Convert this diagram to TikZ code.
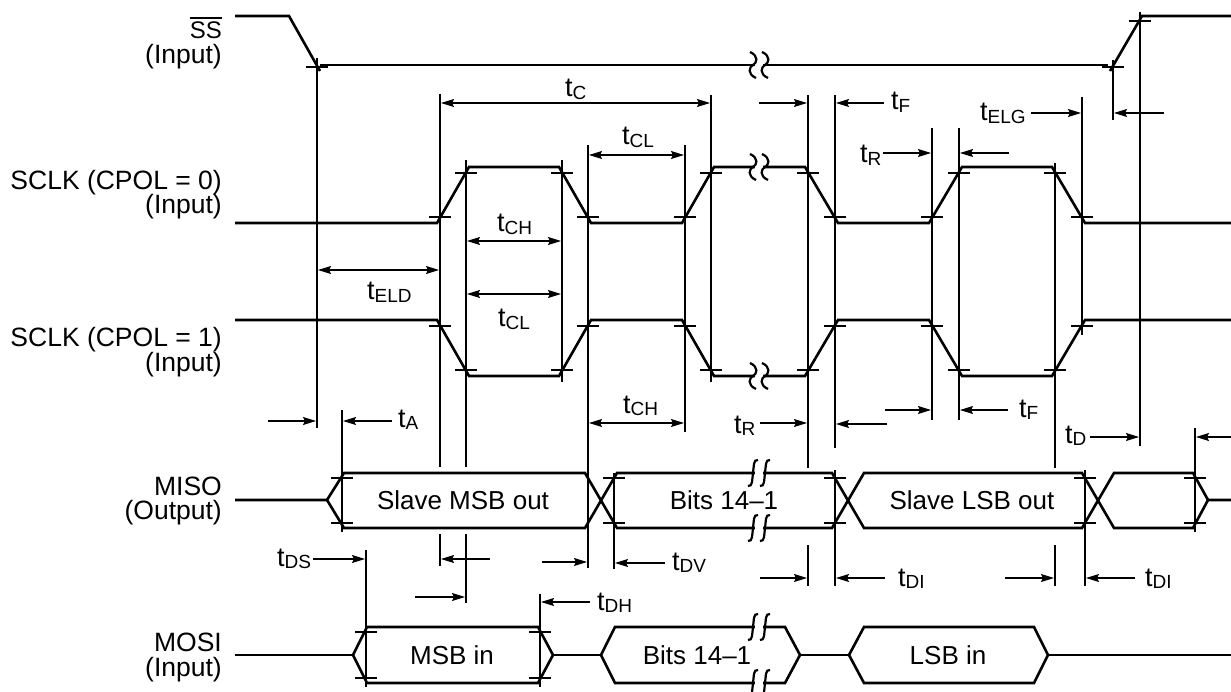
\documentclass[tikz,border=0pt]{standalone}
\usepackage{fontspec}
\setmainfont{Liberation Sans}
\usetikzlibrary{arrows.meta}
\newcommand\tsb[1]{t\raisebox{-2.5pt}{\fontsize{19}{19}\selectfont #1}}
\newcommand\tk[2]{\draw[tick] ({#1-11},#2) -- ({#1+11},#2);}
% wreath-like break (SS, SCLK)
\newcommand\brkw[2]{%
  \fill[white] ({#1-4},{#2-3.5}) rectangle ({#1+4},{#2+3.5});
  \foreach \o in {-6,6}{%
  \draw[brkline] ({#1+\o-3},{#2-13}) .. controls ({#1+\o+6},{#2-9}) and ({#1+\o+4},{#2-2}) .. ({#1+\o},{#2}) .. controls ({#1+\o-4},{#2+2}) and ({#1+\o-6},{#2+9}) .. ({#1+\o+3},{#2+13});}}
% integral-like break (MISO, MOSI)
\newcommand\brki[2]{%
  \fill[white] ({#1-4},{#2-3.5}) rectangle ({#1+4},{#2+3.5});
  \foreach \o in {-6,6}{%
  \draw[brkline] ({#1+\o+5},{#2-13}) .. controls ({#1+\o},{#2-14}) and ({#1+\o+1},{#2-6}) .. ({#1+\o},{#2}) .. controls ({#1+\o-1},{#2+6}) and ({#1+\o},{#2+14}) .. ({#1+\o-5},{#2+13});}}
\begin{document}
\begin{tikzpicture}[x=1pt,y=-1pt,
  sig/.style={line width=2.6pt,line join=miter},
  ref/.style={line width=1.1pt},
  tick/.style={line width=1.1pt},
  brkline/.style={line width=2.2pt},
  dim/.style={line width=1.1pt,-{Stealth[length=13pt,width=8pt,inset=2pt]}},
  dbl/.style={line width=1.1pt,{Stealth[length=13pt,width=8pt,inset=2pt]}-{Stealth[length=13pt,width=8pt,inset=2pt]}},
  tlab/.style={inner sep=0pt,anchor=base west,font=\fontsize{27}{27}\selectfont},
  slab/.style={inner sep=0pt,anchor=base east,font=\fontsize{26.5}{26.5}\selectfont},
  blab/.style={inner sep=0pt,font=\fontsize{26}{26}\selectfont}]
\useasboundingbox (0,0) rectangle (1231,692);
\fill[white] (0,0) rectangle (1231,692);

% ---- signal names
\node[slab,font=\fontsize{24}{24}\selectfont] (ss) at (222,39) {SS};
\draw[line width=1.3pt] ([shift={(0,-4)}]ss.north west) -- ([shift={(0,-4)}]ss.north east);
\node[slab] (ssin) at (222,64) {(Input)};
\node[slab] (c0) at (222,190) {SCLK (CPOL = 0)};
\node[slab] (c0in) at (222,214) {(Input)};
\node[slab] (c1) at (222,347) {SCLK (CPOL = 1)};
\node[slab] (c1in) at (222,371) {(Input)};
\node[slab] (miso) at (222,495) {MISO};
\node[slab] (misoout) at (222,519) {(Output)};
\node[slab] (mosi) at (222,651) {MOSI};
\node[slab] (mosiin) at (222,676) {(Input)};

% ---- reference lines
\foreach \x/\a/\b in {317/58/428, 342/410/532, 440/94/467, 440/534/566, 466/160/467, 466/534/603,
  562/160/382, 588/145/568, 614/473/569, 685/145/432, 711/95/382, 808/95/468, 808/545/586,
  835/95/448, 835/470/586, 932/128/420, 959/128/420, 1055/163/468, 1055/545/586,
  1082/97/335, 1085/470/586, 1113/60/120, 1140/12/446, 1195/428/532, 366/550/687, 540/594/687}
  \draw[ref] (\x,\a) -- (\x,\b);

% ---- SS
\draw[sig] (235,16) -- (289,16) -- (320,71);
\draw[sig] (320,65) -- (1108,65);
\draw[sig] (1110,71) -- (1142,16) -- (1231,16);
\tk{317}{67} \tk{1113}{67} \tk{1140}{21}

% ---- SCLK CPOL=0
\draw[sig] (235,223) -- (437,223) -- (469,167) -- (559,167) -- (591,223) -- (682,223) -- (714,167) -- (805,167) -- (838,223) -- (929,223) -- (962,167) -- (1052,167) -- (1085,223) -- (1231,223);
\foreach \x/\y in {440/217,466/173,562/173,588/217,685/217,711/173,808/173,835/217,932/217,959/173,1055/173,1082/217} {\tk{\x}{\y}}
% ---- SCLK CPOL=1
\draw[sig] (235,320) -- (437,320) -- (469,376) -- (559,376) -- (591,320) -- (682,320) -- (714,376) -- (805,376) -- (838,320) -- (929,320) -- (962,376) -- (1052,376) -- (1085,320) -- (1231,320);
\foreach \x/\y in {440/326,466/370,562/370,588/326,685/326,711/370,808/370,835/326,932/326,959/370,1055/370,1082/326} {\tk{\x}{\y}}

% ---- MISO
\draw[sig] (235,500) -- (327,500) -- (344,473) -- (585,473) -- (617,528) -- (832,528) -- (864,473) -- (1082,473) -- (1114,528) -- (1193,528) -- (1208,500) -- (1231,500);
\draw[sig] (327,500) -- (344,528) -- (585,528) -- (617,473) -- (832,473) -- (864,528) -- (1082,528) -- (1114,473) -- (1193,473) -- (1208,500);
\foreach \x in {342,614,835,1085,1195} {\tk{\x}{478} \tk{\x}{523}}
\node[blab] (b1) at (463,500) {Slave MSB out};
\node[blab] (b2) at (724,500) {Bits 14–1};
\node[blab] (b3) at (972,500) {Slave LSB out};

% ---- MOSI
\draw[sig] (235,655) -- (353,655);
\draw[sig] (353,655) -- (367,627) -- (538,627) -- (553,655) -- (538,683) -- (367,683) -- cycle;
\draw[sig] (553,655) -- (601,655);
\draw[sig] (601,655) -- (615,627) -- (785,627) -- (800,655) -- (785,683) -- (615,683) -- cycle;
\draw[sig] (800,655) -- (849,655);
\draw[sig] (849,655) -- (864,627) -- (1034,627) -- (1048,655) -- (1034,683) -- (864,683) -- cycle;
\draw[sig] (1048,655) -- (1231,655);
\foreach \x in {366,540} {\tk{\x}{632} \tk{\x}{678}}
\node[blab] (m1) at (452,655) {MSB in};
\node[blab] (m2) at (697,655) {Bits 14–1};
\node[blab] (m3) at (948,655) {LSB in};

% ---- breaks
\brkw{759}{65}
\brkw{759}{167}
\brkw{759}{376}
\brki{759}{473}
\brki{759}{528}
\brki{759}{627}
\brki{759}{683}

% ---- dimension arrows
\draw[dbl] (441,103) -- (710,103);
\node[tlab] (lC) at (565,97) {\tsb{C}};
\draw[dim] (759,103) -- (807,103);
\draw[dim] (884,103) -- (836,103);
\node[tlab] (lF) at (891,110) {\tsb{F}};
\draw[dbl] (589,155) -- (684,155);
\node[tlab] (lCL) at (622,145) {\tsb{CL}};
\node[tlab] (lR) at (860,163) {\tsb{R}};
\draw[dim] (883,153) -- (931,153);
\draw[dim] (1009,153) -- (960,153);
\node[tlab] (lELG) at (980,121) {\tsb{ELG}};
\draw[dim] (1031,113) -- (1081,113);
\draw[dim] (1164,113) -- (1114,113);
\draw[dbl] (467,241) -- (561,241);
\node[tlab] (lCH) at (497,232) {\tsb{CH}};
\draw[dbl] (318,270) -- (439,270);
\node[tlab] (lELD) at (367,300) {\tsb{ELD}};
\draw[dbl] (467,294) -- (561,294);
\node[tlab] (lCL2) at (498,327) {\tsb{CL}};
\draw[dim] (268,421) -- (316,421);
\draw[dim] (392,421) -- (343,421);
\node[tlab] (lA) at (398,427) {\tsb{A}};
\draw[dbl] (589,423) -- (684,423);
\node[tlab] (lCH2) at (623,413) {\tsb{CH}};
\node[tlab] (lR2) at (734,433) {\tsb{R}};
\draw[dim] (760,423) -- (807,423);
\draw[dim] (887,424) -- (836,424);
\draw[dim] (885,410) -- (931,410);
\draw[dim] (1008,410) -- (960,410);
\node[tlab] (lF2) at (1019,417) {\tsb{F}};
\node[tlab] (lD) at (1065,443) {\tsb{D}};
\draw[dim] (1090,437) -- (1139,437);
\draw[dim] (1231,437) -- (1196,437);
\node[tlab] (lDS) at (277,566) {\tsb{DS}};
\draw[dim] (313,559) -- (365,559);
\draw[dim] (490,559) -- (441,559);
\draw[dim] (415,597) -- (465,597);
\draw[dim] (542,562) -- (587,562);
\draw[dim] (665,563) -- (615,563);
\node[tlab] (lDV) at (672,570) {\tsb{DV}};
\draw[dim] (590,602) -- (541,602);
\node[tlab] (lDH) at (597,610) {\tsb{DH}};
\draw[dim] (760,578) -- (807,578);
\draw[dim] (885,578) -- (836,578);
\node[tlab] (lDI) at (898,586) {\tsb{DI}};
\draw[dim] (1005,578) -- (1054,578);
\draw[dim] (1135,578) -- (1086,578);
\node[tlab] (lDI2) at (1145,586) {\tsb{DI}};
\end{tikzpicture}
\end{document}
